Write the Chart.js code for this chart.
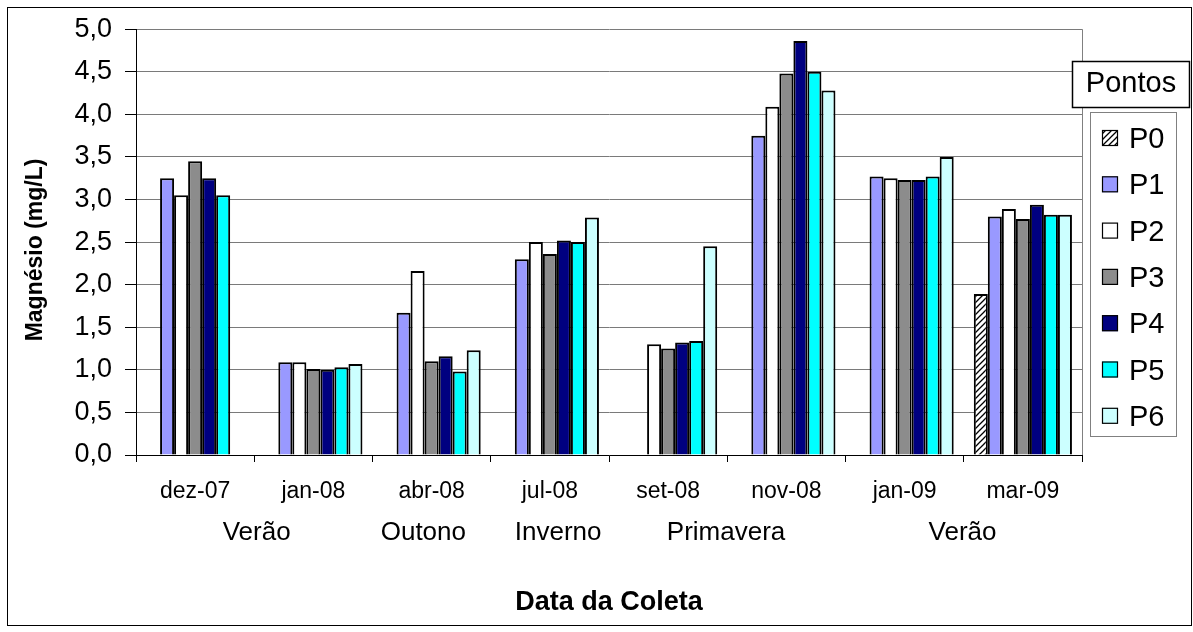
<!DOCTYPE html>
<html lang="pt">
  <head>
    <meta charset="UTF-8" />
    <title>Magnésio por ponto de coleta</title>
    <script src="https://cdn.jsdelivr.net/npm/chart.js"></script>
    <style>
      html, body { margin: 0; padding: 0; background: #fff; }
      #wrap { width: 1193px; height: 632px; position: relative; }
    </style>
  </head>
  <body>
    <div id="wrap"><canvas id="chart"></canvas></div>
    <script>
      // data
      const categories = ["dez-07", "jan-08", "abr-08", "jul-08", "set-08", "nov-08", "jan-09", "mar-09"];
      const seasons = ["Verão", "Outono", "Inverno", "Primavera", "Verão"];
      const seasonAt = [0.52, 1.93, 3.07, 4.49, 6.49]; // category position of each season label
      const yTicks = [0, 0.5, 1, 1.5, 2, 2.5, 3, 3.5, 4, 4.5, 5];

      const pointNames = ["P0", "P1", "P2", "P3", "P4", "P5", "P6"];
      const p0 = [null, null, null, null, null, null, null, 1.89];
      const p1 = [3.25, 1.09, 1.67, 2.30, null, 3.75, 3.27, 2.80];
      const p2 = [3.05, 1.09, 2.16, 2.50, 1.30, 4.09, 3.25, 2.89];
      const p3 = [3.45, 1.01, 1.10, 2.36, 1.25, 4.48, 3.23, 2.77];
      const p4 = [3.25, 1.00, 1.16, 2.52, 1.32, 4.86, 3.23, 2.94];
      const p5 = [3.05, 1.03, 0.98, 2.50, 1.34, 4.50, 3.27, 2.82];
      const p6 = [null, 1.07, 1.23, 2.79, 2.45, 4.28, 3.50, 2.82];

      const FONT = "'Liberation Sans', Arial, sans-serif";

      // hatched fill for P0
      function hatch() {
        const c = document.createElement("canvas");
        c.width = 6; c.height = 6;
        const g = c.getContext("2d");
        g.fillStyle = "#fff";
        g.fillRect(0, 0, 6, 6);
        g.strokeStyle = "#000";
        g.lineWidth = 1.3;
        g.beginPath();
        g.moveTo(-1, 7); g.lineTo(7, -1);
        g.moveTo(-4, 4); g.lineTo(4, -4);
        g.moveTo(2, 10); g.lineTo(10, 2);
        g.stroke();
        return g.createPattern(c, "repeat");
      }

      const fills = [hatch(), "#9999ff", "#ffffff", "#8c8c8c", "#000080", "#00ffff", "#ccffff"];
      const series = [p0, p1, p2, p3, p4, p5, p6];

      const fmt = (v) => v.toFixed(1).replace(".", ",");

      const extras = {
        id: "extras",
        beforeDraw(chart) {
          const { ctx } = chart;
          ctx.save();
          ctx.fillStyle = "#fff";
          ctx.fillRect(0, 0, chart.width, chart.height);
          ctx.restore();
        },
        beforeDatasetsDraw(chart) {
          const { ctx, chartArea: a } = chart;
          ctx.save();
          ctx.strokeStyle = "#808080";
          ctx.lineWidth = 1;
          ctx.beginPath();
          ctx.moveTo(Math.round(a.right) + 0.5, a.top);
          ctx.lineTo(Math.round(a.right) + 0.5, a.bottom);
          ctx.stroke();
          ctx.restore();
        },
        afterDraw(chart) {
          const { ctx, chartArea: a } = chart;
          const x = chart.scales.x;
          ctx.save();
          ctx.fillStyle = "#000";

          // season row under the dates
          ctx.font = "26px " + FONT;
          ctx.textAlign = "center";
          ctx.textBaseline = "alphabetic";
          seasons.forEach((s, i) => ctx.fillText(s, x.getPixelForValue(seasonAt[i]), 540));

          // axis titles
          ctx.font = "bold 27px " + FONT;
          ctx.fillText("Data da Coleta", (a.left + a.right) / 2, 610);
          ctx.save();
          ctx.translate(42, 250);
          ctx.rotate(-Math.PI / 2);
          ctx.font = "bold 23px " + FONT;
          ctx.fillText("Magnésio (mg/L)", 0, 0);
          ctx.restore();

          // legend title box
          ctx.fillStyle = "#fff";
          ctx.fillRect(1072, 61, 118, 47);
          ctx.strokeStyle = "#000";
          ctx.lineWidth = 1.5;
          ctx.strokeRect(1072.5, 61.5, 117, 46);
          ctx.fillStyle = "#000";
          ctx.font = "29px " + FONT;
          ctx.fillText("Pontos", 1131, 92);

          // legend entries
          ctx.fillStyle = "#fff";
          ctx.fillRect(1090, 112, 87, 325);
          ctx.strokeStyle = "#808080";
          ctx.lineWidth = 1;
          ctx.strokeRect(1090.5, 112.5, 86, 324);
          ctx.textAlign = "left";
          pointNames.forEach((name, i) => {
            const cy = 138 + i * 46.3;
            ctx.fillStyle = fills[i];
            ctx.fillRect(1102, cy - 8, 16, 16);
            ctx.strokeStyle = "#000";
            ctx.lineWidth = 1.2;
            ctx.strokeRect(1102.5, cy - 7.5, 15, 15);
            ctx.fillStyle = "#000";
            ctx.fillText(name, 1129, cy + 10);
          });

          // outer frame
          ctx.strokeStyle = "#000";
          ctx.lineWidth = 1;
          ctx.strokeRect(7.5, 7.5, 1184, 618);
          ctx.restore();
        },
      };

      new Chart(document.getElementById("chart"), {
        type: "bar",
        data: {
          labels: categories,
          datasets: series.map((d, i) => ({
            label: pointNames[i],
            data: d,
            backgroundColor: fills[i],
            borderColor: "#000",
            borderWidth: 2,
            categoryPercentage: 0.83,
            barPercentage: 1.0,
          })),
        },
        options: {
          responsive: true,
          maintainAspectRatio: false,
          animation: false,
          layout: { padding: { left: 0, top: 29, right: 111, bottom: 0 } },
          plugins: {
            legend: { display: false },
            tooltip: { enabled: false },
          },
          scales: {
            x: {
              afterFit(s) { s.height = 177; },
              grid: {
                offset: true,
                drawOnChartArea: false,
                tickLength: 7,
                tickColor: "#000",
              },
              border: { color: "#000", width: 1 },
              ticks: {
                color: "#000",
                font: { family: FONT, size: 23 },
                padding: 16,
                maxRotation: 0,
                autoSkip: false,
              },
            },
            y: {
              min: 0,
              max: 5,
              afterFit(s) { s.width = 136; },
              afterBuildTicks(s) { s.ticks = yTicks.map((v) => ({ value: v })); },
              grid: {
                color: "#7a7a7a",
                tickColor: "#000",
                tickLength: 11,
              },
              border: { color: "#000", width: 1 },
              ticks: {
                color: "#000",
                font: { family: FONT, size: 27 },
                padding: 13,
                callback: (v) => fmt(v),
              },
            },
          },
        },
        plugins: [extras],
      });
    </script>
  </body>
</html>
